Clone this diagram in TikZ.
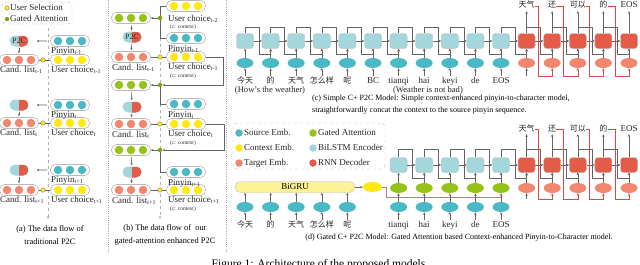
\documentclass[tikz,border=0pt]{standalone}
\usepackage{fontspec}
\usepackage{tikz}
\setmainfont{Liberation Serif}
\newfontfamily\cjkfam{Noto Sans CJK SC}
\usetikzlibrary{shapes.misc,shapes.geometric,arrows.meta}
\definecolor{srcemb}{RGB}{75,185,195}
\definecolor{ctxemb}{RGB}{255,232,20}
\definecolor{tgtemb}{RGB}{240,135,110}
\definecolor{gated}{RGB}{150,195,25}
\definecolor{encbg}{RGB}{163,215,220}
\definecolor{decbg}{RGB}{228,92,72}
\definecolor{grubg}{RGB}{255,242,150}
\definecolor{wire}{RGB}{100,100,100}
\definecolor{ctxwire}{RGB}{190,125,105}
\definecolor{fbwire}{RGB}{225,70,70}
\newcommand{\lblfont}{\fontsize{9}{10}\selectfont}
\newcommand{\cjk}{\cjkfam\fontsize{8}{9}\selectfont}
\newcommand{\trio}[4]{% name, x, y, colour
  \node[tray] (#1) at (#2,#3) {};
  \foreach \dx/\n in {-12/a,0/b,12/c}
    \node[ball, fill=#4] (#1\n) at ([xshift=\dx pt]#1.center) {};
}

\begin{document}
\begin{tikzpicture}[x=1pt, y=-1pt,
    tray/.style={draw=gray!55, line width=0.6pt, rounded corners=5pt, minimum width=39pt,
                 minimum height=11pt, inner sep=0},
    ball/.style={circle, inner sep=0, minimum size=8.5pt},
    p2c/.style={rounded rectangle, minimum width=19pt, minimum height=11pt, inner sep=0, fill=encbg,
                path picture={\fill[decbg] (path picture bounding box.north)
                              rectangle (path picture bounding box.south east);}},
    lstm/.style={draw=gray!55, rounded corners=3pt, minimum width=17pt, minimum height=15pt, inner sep=0},
    emb/.style={ellipse, minimum width=17pt, minimum height=10pt, inner sep=0},
    arrow/.style={-{Stealth[length=2.6pt,width=2.4pt]}, draw=wire, line width=0.55pt},
    link/.style={draw=wire, line width=0.55pt},
    fb/.style={-{Stealth[length=2.6pt,width=2.4pt]}, draw=fbwire, line width=0.6pt},
    ctx/.style={-{Stealth[length=2.6pt,width=2.4pt]}, draw=ctxwire, line width=0.6pt},
    flow/.style={dashed, draw=gray!60, -{Stealth[length=3pt,width=3pt]}, line width=0.6pt},
    sep/.style={dash pattern=on 1pt off 1.2pt, draw=gray!70, line width=0.6pt},
    legend/.style={draw=gray!60, dashed, rounded corners=4pt, inner sep=0},
    lbl/.style={font=\lblfont, inner sep=0, text height=6pt, text depth=2pt, text=black!85},
    note/.style={font=\fontsize{5.5}{6}\selectfont, inner sep=0, anchor=west, text=black!85},
    seldot/.style={circle, draw=gray, fill=ctxemb, inner sep=0, minimum size=4.5pt},
    gatedot/.style={circle, fill=gated!85!black, inner sep=0, minimum size=4.5pt},
    legdot/.style={circle, inner sep=0, minimum size=7.5pt},
    capt/.style={font=\fontsize{8.4}{13}\selectfont, align=center, inner sep=0}
]
    \useasboundingbox (0,0) rectangle (640,265);

    % Panel separators
    \draw[sep] (108,0) -- (108,252);
    \draw[sep] (226,0) -- (226,252);

    % (a) legend
    \node[legend, minimum width=70pt, minimum height=22pt] (lega) at (37,13) {};
    \node[seldot] (lsel) at (7,8) {};
    \node[lbl, anchor=west] (lselt) at (10,8) {User Selection};
    \node[gatedot] (lgate) at (7,19) {};
    \node[lbl, anchor=west] (lgatet) at (10,19) {Gated Attention};

    % (a) traditional P2C
    \coordinate (fa0) at (48,28);
    \coordinate (fa1) at (48,219);
    \draw[flow] (fa0) -- (fa1);
    \foreach \k/\yp/\yc/\t in {1/41/60/{t-1}, 2/105/123/t, 3/170/190/{t+1}}{
        \node[p2c] (pa\k) at (19,\yp) {};
        \trio{ya\k}{70}{\yp}{srcemb}
        \trio{ca\k}{19}{\yc}{tgtemb}
        \trio{ua\k}{70}{\yc}{ctxemb}
        \node[seldot] (sa\k) at (43,\yc) {};
        \draw[arrow, shorten >=8pt, shorten <=3pt] (ya\k) -- (pa\k);
        \draw[arrow, shorten >=1pt, shorten <=1pt] (pa\k) -- (ca\k);
        \draw[link] (ca\k) -- (sa\k) -- (ua\k);
        \node[lbl, anchor=west] (yla\k) at (51,\yp+10.5) {Pinyin\textsubscript{\t}};
        \node[lbl, anchor=west] (cla\k) at (0,\yc+10) {Cand. list\textsubscript{\t}};
        \node[lbl, anchor=west] (ula\k) at (51,\yc+10) {User choice\textsubscript{\t}};
    }
    \node[lbl, font=\fontsize{8}{9}\selectfont] (pat) at (pa1) {P2C};
    \node[capt] (capa) at (50,235) {(a) The data flow of\\traditional P2C};

    % (b) gated-attention P2C
    \coordinate (fb0) at (160,26);
    \coordinate (fb1) at (160,219);
    \draw[flow] (fb0) -- (fb1);
    \trio{ub0}{186}{6}{ctxemb}
    \node[lbl, anchor=west] (ulb0) at (168,19) {User choice\textsubscript{t-2}};
    \node[note] (unb0) at (170,27.5) {(c: context)};
    \foreach \k/\yg/\yp/\yc/\yq/\t in {1/18/37/57/38/{t-1}, 2/85/107/124/104/t, 3/150/172/190/172/{t+1}}{
        \trio{gb\k}{131}{\yg}{gated}
        \node[p2c] (pb\k) at (132,\yp) {};
        \trio{cb\k}{131}{\yc}{tgtemb}
        \trio{ub\k}{186}{\yc}{ctxemb}
        \trio{yb\k}{186}{\yq}{srcemb}
        \node[gatedot] (gdb\k) at (160,\yg) {};
        \node[seldot] (sb\k) at (160,\yc) {};
        \draw[arrow] (gdb\k) -- (gb\k);
        \draw[arrow, shorten >=1pt, shorten <=1pt] (gb\k) -- (pb\k);
        \draw[arrow, shorten >=1pt, shorten <=1pt] (pb\k) -- (cb\k);
        \draw[link] (cb\k) -- (sb\k) -- (ub\k);
        \draw[link] (yb\k.west) -| (gdb\k);
        \node[lbl, anchor=west] (clb\k) at (112,\yc+11) {Cand. list\textsubscript{\t}};
        \node[lbl, anchor=west] (ulb\k) at (168,\yc+10.5) {User choice\textsubscript{\t}};
        \node[note] (unb\k) at (170,\yc+19) {(c: context)};
        \node[lbl, anchor=west] (ylb\k) at (168,\yq+11.5) {Pinyin\textsubscript{\t}};
    }
    \node[lbl, font=\fontsize{8}{9}\selectfont] (pbt) at (pb1) {P2C};
    \draw[link] (ub0.west) -| (gdb1);
    \draw[arrow] (ub1.east) -- (223,57) |- (gdb2);
    \draw[arrow] (ub2.east) -- (224,124) |- (gdb3);
    \node[capt] (capb) at (165,235) {(b) The data flow of~~our\\gated-attention enhanced P2C};

    % (c) Simple C+ P2C
    \foreach \i in {0,...,15}{
        \pgfmathsetmacro\xx{245+25.6*\i}
        \ifnum\i<11 \def\cfill{encbg}\def\efill{srcemb}\else\def\cfill{decbg}\def\efill{tgtemb}\fi
        \node[lstm, fill=\cfill] (ec\i) at (\xx,41) {};
        \node[emb, fill=\efill] (mc\i) at (\xx,63) {};
        \coordinate (tc\i) at (\xx,27);
        \draw[arrow] (mc\i) -- (ec\i);
    }
    \foreach \i in {0,...,10} \draw[link] (ec\i.north) -- (tc\i);
    \foreach \i/\w in {0/{\cjk 今天},1/{\cjk 的},2/{\cjk 天气},3/{\cjk 怎么样},4/{\cjk 呢},5/BC,
                       6/tianqi,7/hai,8/keyi,9/de,10/EOS}{
        \node[lbl] (wc\i) at (245+25.6*\i,81) {\w};
        \draw[arrow, shorten <=1pt] (wc\i) -- (mc\i);
    }
    \foreach \i/\w in {11/{\cjk 天气},12/{\cjk 还},13/{\cjk 可以},14/{\cjk 的},15/EOS}{
        \node[lbl] (oc\i) at (245+25.6*\i,6) {\w};
        \draw[arrow, shorten >=1pt] (ec\i) -- (oc\i);
    }
    \foreach \i in {0,...,14}{
        \pgfmathtruncatemacro\j{\i+1}
        \pgfmathsetmacro\gx{245+25.6*\i+14}
        \draw[arrow] (ec\i) -- (ec\j);
        \draw[arrow] (tc\i) -| (\gx,54) -| (ec\j.south);
    }
    \coordinate (gc) at (245+25.6*11,76);
    \draw[arrow] (gc) -- (mc11);
    \foreach \i in {11,...,14}{
        \pgfmathtruncatemacro\j{\i+1}
        \pgfmathsetmacro\rx{245+25.6*\i+11.5}
        \draw[fb] (oc\i.east) -| (\rx,76) -| (mc\j.south);
    }
    \node[lbl, font=\fontsize{8.6}{9}\selectfont] (srcc) at (270,90) {(How's the weather)};
    \node[lbl, font=\fontsize{8.6}{9}\selectfont] (tgtc) at (428,90) {(Weather is not bad)};
    \node[anchor=north west, align=left, inner sep=0, font=\fontsize{8}{12}\selectfont] (capc) at (312,95)
        {(c) Simple C+ P2C Model: Simple context-enhanced pinyin-to-character model,\\
         straightforwardly concat the context to the source pinyin sequence.};

    % (d) legend
    \node[legend, minimum width=152pt, minimum height=46pt] (legd) at (309,146) {};
    \foreach \c/\t/\xo/\yo in {srcemb/Source Emb./239/133, ctxemb/Context Emb./239/148,
                               tgtemb/Target Emb./239/163, gated/Gated Attention/313/133,
                               encbg/BiLSTM Encoder/313/148, decbg/RNN Decoder/313/163}{
        \node[legdot, fill=\c] (ld\c) at (\xo,\yo) {};
        \node[lbl, anchor=west] (lt\c) at (\xo+5,\yo) {\t};
    }

    % (d) Gated C+ P2C
    \node[draw=gray!55, fill=grubg, rounded corners=5.5pt, minimum width=120pt, minimum height=11pt,
          inner sep=0, font=\lblfont] (gru) at (295,187) {BiGRU};
    \node[emb, fill=ctxemb, minimum width=19pt] (yc) at (372.5,187) {};
    \draw[arrow] (gru) -- (yc);
    \foreach \i/\w in {0/{\cjk 今天},1/{\cjk 的},2/{\cjk 天气},3/{\cjk 怎么样},4/{\cjk 呢},
                       6/tianqi,7/hai,8/keyi,9/de,10/EOS}{
        \node[emb, fill=srcemb] (sd\i) at (245+25.6*\i,207) {};
        \node[lbl] (wd\i) at (245+25.6*\i,225) {\w};
        \draw[arrow, shorten <=1pt] (wd\i) -- (sd\i);
    }
    \foreach \i in {0,...,4} \draw[arrow] (sd\i) -- (sd\i |- gru.south);
    \foreach \i in {6,...,15}{
        \pgfmathsetmacro\xx{245+25.6*\i}
        \ifnum\i<11 \def\cfill{encbg}\def\efill{gated}\else\def\cfill{decbg}\def\efill{tgtemb}\fi
        \node[lstm, fill=\cfill] (ed\i) at (\xx,165) {};
        \node[emb, fill=\efill] (gd\i) at (\xx,188) {};
        \coordinate (td\i) at (\xx,149);
        \draw[arrow] (gd\i) -- (ed\i);
    }
    \coordinate (ctxend) at (503,197);
    \draw[ctx] (yc.east) -- (386,187) |- (ctxend);
    \foreach \i in {6,...,10}{
        \draw[arrow] (sd\i) -- (gd\i);
        \draw[link] (ed\i.north) -- (td\i);
    }
    \foreach \i/\w in {11/{\cjk 天气},12/{\cjk 还},13/{\cjk 可以},14/{\cjk 的},15/EOS}{
        \node[lbl] (od\i) at (245+25.6*\i,129) {\w};
        \draw[arrow, shorten >=1pt] (ed\i) -- (od\i);
    }
    \foreach \i in {6,...,14}{
        \pgfmathtruncatemacro\j{\i+1}
        \pgfmathsetmacro\gx{245+25.6*\i+14}
        \draw[arrow] (ed\i) -- (ed\j);
        \draw[arrow] (td\i) -| (\gx,178) -| (ed\j.south);
    }
    \coordinate (gdin) at (245+25.6*11,199);
    \draw[arrow] (gdin) -- (gd11);
    \foreach \i in {11,...,14}{
        \pgfmathtruncatemacro\j{\i+1}
        \pgfmathsetmacro\rx{245+25.6*\i+11.5}
        \draw[fb] (od\i.east) -| (\rx,199) -| (gd\j.south);
    }
    \node[inner sep=0, font=\fontsize{8}{9}\selectfont] (capd) at (459,238)
        {(d) Gated C+ P2C Model: Gated Attention based Context-enhanced Pinyin-to-Character model.};

    % Figure caption (cut by the page edge)
    \node[anchor=north, inner sep=0, font=\fontsize{11.5}{12}\selectfont] (figcap) at (320,259.5)
        {Figure 1: Architecture of the proposed models.};
\end{tikzpicture}
\end{document}
